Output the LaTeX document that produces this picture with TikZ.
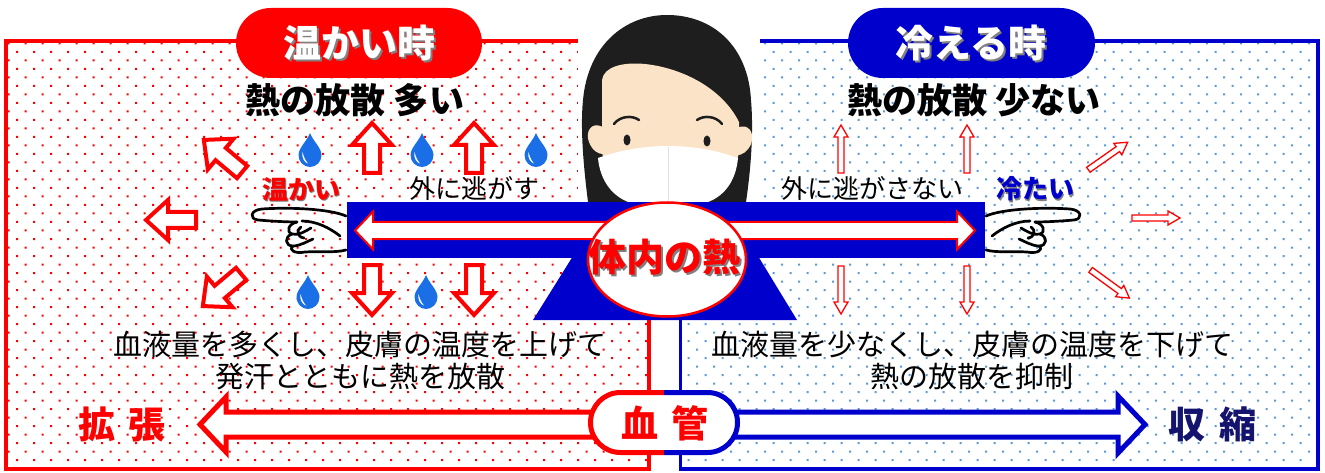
\documentclass[tikz,border=0pt]{standalone}
\usepackage{fontspec}
\newfontfamily\jp{Noto Sans CJK JP}
\usetikzlibrary{shapes.geometric}
\definecolor{warmred}{HTML}{FF0000}
\definecolor{coolblue}{HTML}{0000CC}
\definecolor{dotblue}{HTML}{5B9BD5}
\definecolor{navy}{HTML}{14146E}
\definecolor{dropblue}{HTML}{1A6FE6}
\definecolor{skin}{HTML}{FBE3C8}
\definecolor{hair}{HTML}{1E1E1E}
\definecolor{shadowgray}{HTML}{808080}

\tikzset{
  titletext/.style={font=\jp\bfseries\fontsize{38}{40}\selectfont, inner sep=0pt},
  headtext/.style={font=\jp\bfseries\fontsize{35}{38}\selectfont, inner sep=0pt},
  bodytext/.style={font=\jp\fontsize{29}{31.5}\selectfont, inner sep=0pt, align=center},
  smalltext/.style={font=\jp\fontsize{26}{28}\selectfont, inner sep=0pt},
  smallbold/.style={font=\jp\bfseries\fontsize{26}{28}\selectfont, inner sep=0pt},
  vesseltext/.style={font=\jp\bfseries\fontsize{37}{40}\selectfont, inner sep=0pt,
    execute at begin node={\spaceskip=14pt\relax}},
  dropshadow/.style={text=shadowgray},
  fatline/.style={draw=warmred, fill=white, line width=4pt, miter limit=10},
  slimline/.style={draw=warmred, fill=white, line width=1.3pt},
  handline/.style={draw=black, line width=2.7pt, line cap=round, line join=round},
  pics/fatarrow/.style={code={
    \path[fatline] (-25,-8) -- (3,-8) -- (3,-20) -- (25,0) -- (3,20) -- (3,8) -- (-25,8) -- cycle;
  }},
  pics/slimarrow/.style={code={
    \path[slimline] (-24,-3) -- (12,-3) -- (12,-7) -- (24,0) -- (12,7) -- (12,3) -- (-24,3) -- cycle;
  }},
  pics/drop/.style={code={
    \fill[dropblue] (0,-17) .. controls (3,-9) and (11.5,-2) .. (11.5,5)
      .. controls (11.5,12) and (6,17) .. (0,17)
      .. controls (-6,17) and (-11.5,12) .. (-11.5,5)
      .. controls (-11.5,-2) and (-3,-9) .. (0,-17) -- cycle;
    \fill[white] (-7.5,2) .. controls (-8.5,8) and (-5.5,12.5) .. (-2,13.5)
      .. controls (-5,10) and (-6.5,6) .. (-7.5,2) -- cycle;
  }},
  % a hand pointing left, drawn as outline strokes only
  pics/pointer/.style={code={
    \draw[handline] (346,216) .. controls (330,209) and (290,207) .. (262,209)
      .. controls (250,210) and (249,219) .. (258,220)
      .. controls (270,221) and (285,222) .. (297,222);
    \draw[handline] (302,221) .. controls (316,221) and (330,228) .. (340,236);
    \draw[handline] (297,222) .. controls (288,224) and (286,232) .. (292,234)
      .. controls (298,236) and (306,231) .. (311,228);
    \draw[handline] (301,227) .. controls (296,230) and (297,237) .. (304,238);
    \draw[handline] (292,234) .. controls (284,237) and (285,246) .. (293,246)
      .. controls (300,246) and (308,241) .. (313,239);
    \draw[handline] (293,246) .. controls (288,250) and (295,254) .. (305,252)
      .. controls (320,251) and (335,253) .. (346,250);
  }},
}

\begin{document}
\begin{tikzpicture}[x=1pt, y=-1pt]
\useasboundingbox (0,0) rectangle (1325,473);
\fill[white] (0,0) rectangle (1325,473);

% dotted panel backgrounds
\begin{scope}
  \clip (7.75,42.75) rectangle (647.25,467.25);
  \fill[warmred] \foreach \j in {0,...,50} {\foreach \i in {0,...,38}
    {({8.5*mod(\j+1,2)+17*\i-1},{43.5+8.5*\j-1}) rectangle ++(2,2)}};
\end{scope}
\begin{scope}
  \clip (682.25,42.75) rectangle (1316.25,467.25);
  \fill[dotblue] \foreach \j in {0,...,50} {\foreach \i in {40,...,78}
    {({8.5*mod(\j,2)+17*\i-1},{43.5+8.5*\j-1}) rectangle ++(2,2)}};
\end{scope}

% panel frames
\draw[warmred, line width=3.5pt] (6,41) rectangle (649,469);
\draw[coolblue, line width=3.5pt] (680.5,41) rectangle (1318,469);

% portrait
\fill[white] (578,0) rectangle (760,202);
\fill[hair] (588,202) .. controls (584,170) and (580,130) .. (583,100)
  .. controls (588,45) and (625,15) .. (667,15)
  .. controls (712,15) and (748,45) .. (751,100)
  .. controls (754,135) and (750,175) .. (746,202) -- cycle;
\fill[skin] (603,127) .. controls (591,121) and (585,132) .. (589,142)
  .. controls (592,150) and (598,155) .. (605,154) -- cycle;
\fill[skin] (737,128) .. controls (749,122) and (755,134) .. (751,144)
  .. controls (748,151) and (742,156) .. (736,155) -- cycle;
\fill[skin] (602,150) -- (602,80) .. controls (604,66) and (624,62) .. (645,64)
  .. controls (682,68) and (722,88) .. (739,122) -- (739,150)
  .. controls (737,182) and (702,200) .. (669,200)
  .. controls (636,200) and (604,182) .. (602,150) -- cycle;
\draw[hair, line width=2.5pt, line cap=round] (614,124) .. controls (620,116) and (632,115) .. (639,120);
\draw[hair, line width=2.5pt, line cap=round] (697,120) .. controls (704,115) and (716,116) .. (722,124);
\fill[hair] (627,140) ellipse [x radius=3.5, y radius=5.5];
\fill[hair] (707,141) ellipse [x radius=3.5, y radius=5.5];
\fill[white] (598,158) .. controls (620,150) and (645,146) .. (668,146)
  .. controls (692,146) and (716,150) .. (738,158)
  .. controls (736,180) and (725,198) .. (702,204) -- (634,204)
  .. controls (612,198) and (600,180) .. (598,158) -- cycle;
\draw[black!12, line width=1pt] (668,147) -- (668,202);

% section titles
\fill[warmred, rounded corners=34.9pt] (236,8) rectangle (482,78);
\node[titletext, dropshadow] at (361,45) {温かい時};
\node[titletext, text=white] (warmtitle) at (359,43) {温かい時};
\fill[coolblue, rounded corners=34.9pt] (848,8) rectangle (1095,78);
\node[titletext, dropshadow] at (973,45) {冷える時};
\node[titletext, text=white] (cooltitle) at (971,43) {冷える時};

\node[headtext] (warmloss) at (355,100) {熱の放散 多い};
\node[headtext] (coolloss) at (974,100) {熱の放散 少ない};

% heat leaving the warm body
\pic[rotate=140] at (223,156) {fatarrow};
\pic[rotate=90] at (372,148) {fatarrow};
\pic[rotate=90] at (474,148) {fatarrow};
\pic[rotate=180] at (171,220) {fatarrow};
\pic[rotate=220] at (222,290) {fatarrow};
\pic[rotate=-90] at (372,290) {fatarrow};
\pic[rotate=-90] at (474,290) {fatarrow};
\pic at (310,150) {drop};
\pic at (422,150) {drop};
\pic at (536,150) {drop};
\pic at (308,292) {drop};
\pic at (426,292) {drop};

% heat kept in the cold body
\pic[rotate=90] at (841,149) {slimarrow};
\pic[rotate=90] at (967,149) {slimarrow};
\pic[rotate=35] at (1108,156) {slimarrow};
\pic at (1156,218) {slimarrow};
\pic[rotate=-36] at (1110,284) {slimarrow};
\pic[rotate=-90] at (841,290) {slimarrow};
\pic[rotate=-90] at (967,290) {slimarrow};

% pointing hands
\pic at (0,0) {pointer};
\pic[xscale=-1] at (1332,0) {pointer};

\node[smallbold, dropshadow] at (302.5,190.5) {温かい};
\node[smallbold, text=warmred] (warmword) at (301,189) {温かい};
\node[smallbold, dropshadow] at (1036.5,190.5) {冷たい};
\node[smallbold, text=coolblue] (coldword) at (1035,189) {冷たい};
\node[smalltext] (release) at (474,189) {外に逃がす};
\node[smalltext] (keep) at (872,189) {外に逃がさない};

% core heat bar
\fill[coolblue] (347,202) rectangle (985,258);
\fill[coolblue] (573,256) -- (758,256) -- (797,320) -- (533,320) -- cycle;
\path[draw=warmred, fill=white, line width=2pt]
  (355,230.5) -- (373,211.5) -- (373,222) -- (957,222) -- (957,211.5) -- (975,230.5)
  -- (957,249.5) -- (957,239) -- (373,239) -- (373,249.5) -- cycle;
\node[ellipse, draw=warmred, fill=white, line width=2.5pt, minimum width=158pt,
      minimum height=114pt, inner sep=0pt] (core) at (667,259.5) {};
\node[titletext, dropshadow] at (666,259) {体内の熱};
\node[titletext, text=warmred] (coreheat) at (664,257) {体内の熱};

% explanations
\node[bodytext] (warmnote) at (360,360.5) {血液量を多くし、皮膚の温度を上げて\\発汗とともに熱を放散};
\node[bodytext] (coolnote) at (972,360.5) {血液量を少なくし、皮膚の温度を下げて\\熱の放散を抑制};

% blood vessel response
\path[draw=warmred, fill=white, line width=5pt, miter limit=10]
  (600,412) -- (226,412) -- (226,397) -- (200,424.5) -- (226,452) -- (226,437) -- (600,437);
\path[draw=coolblue, fill=white, line width=5pt, miter limit=10]
  (730,412) -- (1118,412) -- (1118,396) -- (1145,424.5) -- (1118,453) -- (1118,437) -- (730,437);
\fill[white, rounded corners=29.9pt] (590.5,392.5) rectangle (737.5,452.5);
\begin{scope}
  \clip (580,380) rectangle (664,466);
  \draw[warmred, line width=5pt, rounded corners=29.9pt] (590.5,392.5) rectangle (737.5,452.5);
\end{scope}
\begin{scope}
  \clip (664,380) rectangle (750,466);
  \draw[coolblue, line width=5pt, rounded corners=29.9pt] (590.5,392.5) rectangle (737.5,452.5);
\end{scope}
\node[vesseltext, text=warmred] (vessel) at (665,423) {血 管};
\node[vesseltext, text=warmred] (dilate) at (122,424) {拡 張};
\node[vesseltext, text=navy] (constrict) at (1212,424) {収 縮};
\end{tikzpicture}
\end{document}
